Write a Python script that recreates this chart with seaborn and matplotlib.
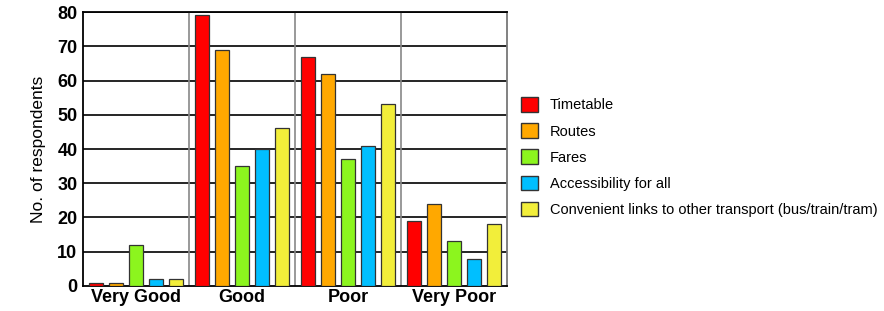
import matplotlib
matplotlib.use("Agg")
import matplotlib.pyplot as plt
import seaborn as sns
import pandas as pd
from matplotlib.patches import Patch

categories = ["Very Good", "Good", "Poor", "Very Poor"]
series = ["Timetable", "Routes", "Fares", "Accessibility for all",
          "Convenient links to other transport (bus/train/tram)"]
timetable = [1, 79, 67, 19]
routes = [1, 69, 62, 24]
fares = [12, 35, 37, 13]
accessibility = [2, 40, 41, 8]
links = [2, 46, 53, 18]
colors = ["#ff0000", "#ffa800", "#8cf51e", "#00bfff", "#f2ee3a"]

values = [timetable, routes, fares, accessibility, links]
rows = []
for s, vals in zip(series, values):
    for c, v in zip(categories, vals):
        rows.append({"cat": c, "series": s, "val": v})
df = pd.DataFrame(rows)

sns.set_style("white")
plt.rcParams['font.family'] = ['Liberation Sans', 'DejaVu Sans']
plt.rcParams['text.color'] = 'black'
plt.rcParams['axes.labelcolor'] = 'black'
plt.rcParams['xtick.color'] = 'black'
plt.rcParams['ytick.color'] = 'black'

fig = plt.figure(figsize=(8.84, 3.11), dpi=100)
ax = fig.add_axes([0.0939, 0.0804, 0.4796, 0.881])

sns.barplot(data=df, x="cat", y="val", hue="series", order=categories,
            hue_order=series, palette=colors, saturation=1, width=0.94, gap=0.33,
            edgecolor="#333333", linewidth=0.9, ax=ax, legend=False, zorder=3)

ax.set_ylim(0, 80)
ax.set_xlim(-0.5, 3.5)
ax.set_yticks(range(0, 81, 10))
for y in range(10, 81, 10):
    ax.axhline(y, color="black", lw=1.2, zorder=1)
for x in [0.5, 1.5, 2.5]:
    ax.axvline(x, color="#888888", lw=1.2, zorder=1)

ax.set_xlabel("")
ax.set_ylabel("No. of respondents", fontsize=12.5, labelpad=8)
ax.tick_params(axis="y", labelsize=13, length=0, pad=4)
ax.tick_params(axis="x", labelsize=13, length=0, pad=2)
for lab in ax.get_yticklabels() + ax.get_xticklabels():
    lab.set_fontweight("bold")

for side in ["left", "bottom", "top"]:
    ax.spines[side].set_visible(True)
    ax.spines[side].set_color("black")
    ax.spines[side].set_linewidth(1.3)
ax.spines["right"].set_color("#777777")
ax.spines["right"].set_linewidth(1.3)

handles = [Patch(facecolor=c, edgecolor="#333333", label=s) for c, s in zip(colors, series)]
fig.legend(handles=handles, loc="center left", bbox_to_anchor=(0.583, 0.495),
           frameon=False, fontsize=10.5, handlelength=1.15, handleheight=1.15,
           labelspacing=0.75, handletextpad=0.8, borderaxespad=0)

fig.savefig("out.png", dpi=100)
